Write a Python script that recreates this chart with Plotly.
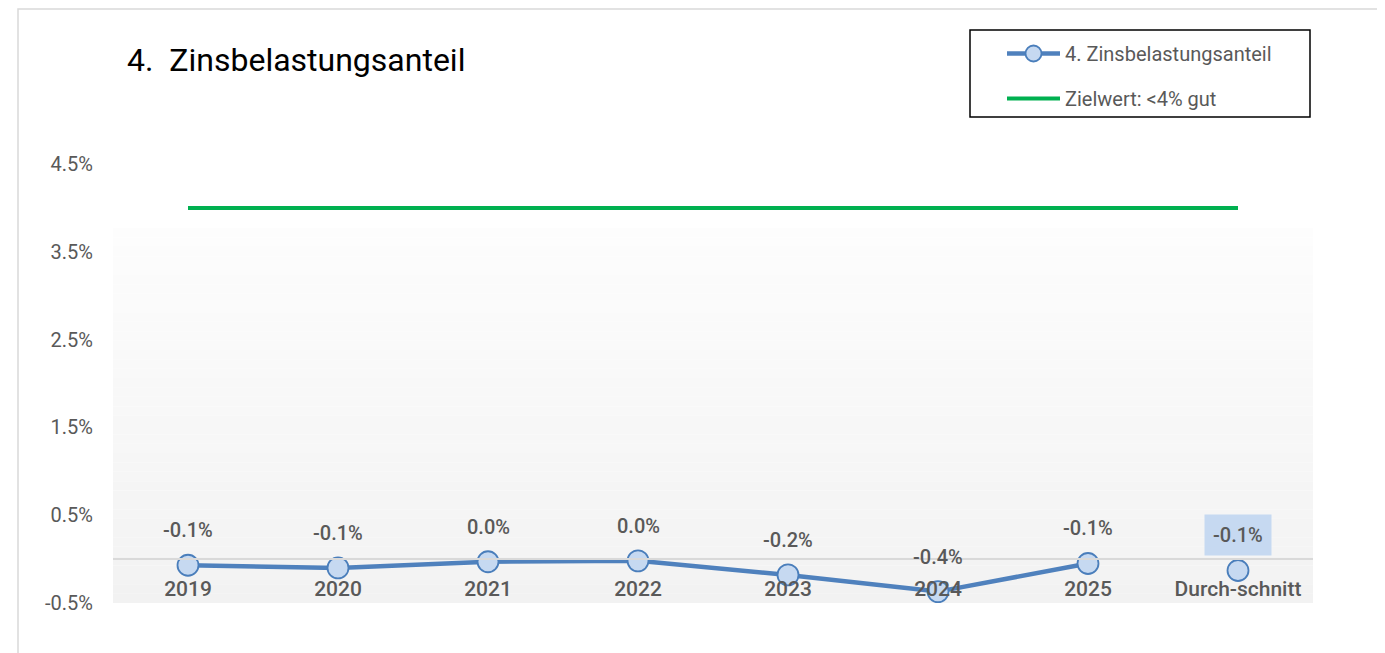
import plotly.graph_objects as go

# ---- data ----
categories = ["2019", "2020", "2021", "2022", "2023", "2024", "2025", "Durch-schnitt"]
years = categories[:7]
zins_values = [-0.07, -0.10, -0.03, -0.02, -0.18, -0.37, -0.05]   # percent
avg_label = "Durch-schnitt"
avg_value = -0.13                                              # percent
target_values = [4.0] * 8                                       # percent
y_ticks = [-0.5, 0.5, 1.5, 2.5, 3.5, 4.5]

series_name = "4. Zinsbelastungsanteil"
target_name = "Zielwert: <4% gut"
title_text = "4.\u00a0 Zinsbelastungsanteil"

FONT = "Roboto, DejaVu Sans, sans-serif"
GRAY = "#595959"
Y_MIN, Y_MAX = -0.5, 4.5

# page offset (body margin) and plot-area placement in screen pixels
OFF = 8
PL, PR, PT, PB = 113, 1313, 164, 603
W, H = 1385 - OFF, 653 - OFF


def px(X):
    return (X - PL) / (PR - PL)


def py(Y):
    return (PB - Y) / (PB - PT)


def fmt(v):
    s = f"{abs(v) + 1e-9:.1f}%"
    if round(abs(v), 1) == 0:
        return s
    return ("-" if v < 0 else "") + s


fig = go.Figure()

# target line
fig.add_trace(go.Scatter(
    x=categories, y=target_values, mode="lines", name=target_name,
    line=dict(color="#00b050", width=4), legendgroup="b", legendrank=2,
    hoverinfo="skip"))

# main series
fig.add_trace(go.Scatter(
    x=years, y=zins_values, mode="lines+markers", name=series_name,
    line=dict(color="#4f81bd", width=4.5),
    marker=dict(size=21, color="#c6d9f1", line=dict(color="#4a7ebb", width=1.8)),
    legendgroup="a", legendrank=1))

# average marker (not connected)
fig.add_trace(go.Scatter(
    x=[avg_label], y=[avg_value], mode="markers", showlegend=False,
    marker=dict(size=21, color="#c6d9f1", line=dict(color="#4a7ebb", width=1.8))))

# data labels
label_font = dict(family=FONT, size=20, color=GRAY, weight=500)
for i, v in enumerate(zins_values):
    fig.add_annotation(x=i, y=v, text=fmt(v), showarrow=False, yshift=35,
                       font=label_font)
fig.add_annotation(x=categories.index(avg_label), y=avg_value, text=fmt(avg_value),
                   showarrow=False, yshift=36, bgcolor="#c6d9f1", borderpad=8,
                   font=label_font)

# gradient plot background
shapes = []
top = 3.77
n = 40
for i in range(n):
    y0 = top - (top - Y_MIN) * i / n
    y1 = top - (top - Y_MIN) * (i + 1) / n
    t = (i + 0.5) / n
    g = round(253 - (253 - 242) * t)
    shapes.append(dict(type="rect", xref="x domain", yref="y", x0=0, x1=1,
                       y0=y1, y1=y0, fillcolor=f"rgb({g},{g},{g})",
                       line=dict(width=0), layer="below"))
# outer chart border
shapes.append(dict(type="rect", xref="paper", yref="paper",
                   x0=px(18), x1=px(1382), y0=py(700), y1=py(9),
                   line=dict(color="#d9d9d9", width=1.5), fillcolor="rgba(0,0,0,0)",
                   layer="below"))
# legend box
shapes.append(dict(type="rect", xref="paper", yref="paper",
                   x0=px(970), x1=px(1310), y0=py(117), y1=py(30),
                   line=dict(color="black", width=1.5), fillcolor="white",
                   layer="below"))

fig.update_layout(
    width=W, height=H,
    margin=dict(l=PL - OFF, r=W - (PR - OFF), t=PT - OFF, b=H - (PB - OFF)),
    paper_bgcolor="white", plot_bgcolor="white",
    shapes=shapes,
    title=dict(text=title_text, x=(127 - OFF) / W, xref="container", xanchor="left",
               y=1 - (60 - OFF) / H, yref="container", yanchor="middle",
               font=dict(family=FONT, size=32, color="black")),
    legend=dict(x=px(1002), y=py(34), xanchor="left", yanchor="top",
                bgcolor="rgba(0,0,0,0)", borderwidth=0, itemwidth=53,
                tracegroupgap=16, traceorder="grouped",
                font=dict(family=FONT, size=20, color=GRAY)),
    showlegend=True,
    yaxis=dict(range=[Y_MIN, Y_MAX], tickvals=y_ticks, ticktext=[fmt(v) for v in y_ticks],
               showgrid=False, zeroline=False, showline=False, ticks="",
               ticklabelstandoff=19,
               tickfont=dict(family=FONT, size=20, color=GRAY)),
    xaxis=dict(type="category", categoryorder="array", categoryarray=categories,
               range=[-0.5, len(categories) - 0.5],
               anchor="free", position=(0 - Y_MIN) / (Y_MAX - Y_MIN),
               showline=True, linecolor="#d9d9d9", linewidth=1.5,
               showgrid=False, zeroline=False, ticks="", ticklabelstandoff=11,
               tickfont=dict(family=FONT, size=21, color=GRAY, weight=500)),
)

fig.write_html("out.html")
